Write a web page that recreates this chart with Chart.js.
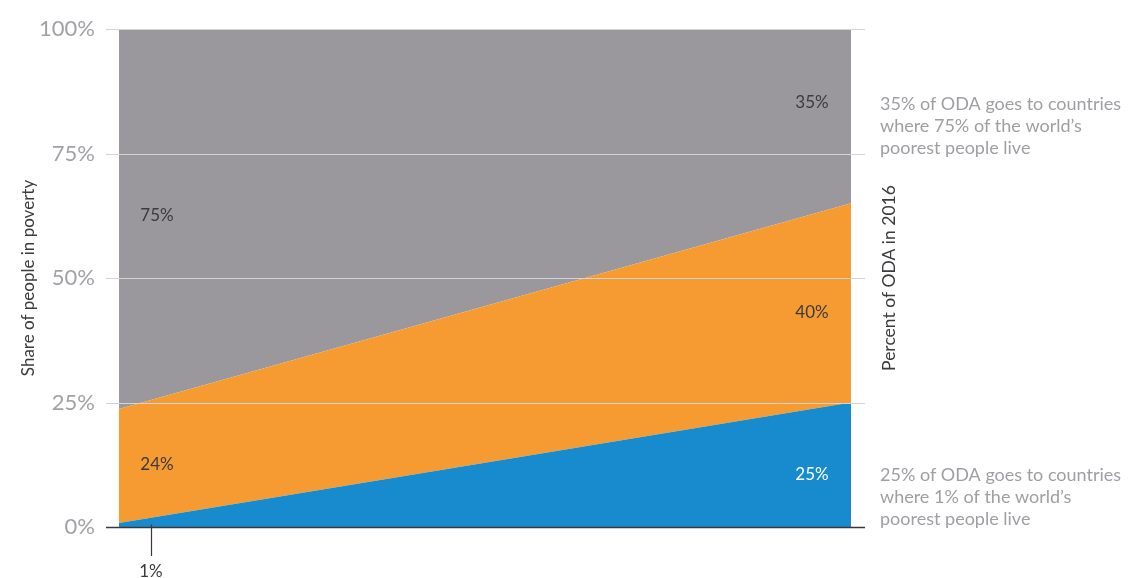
<!DOCTYPE html>
<html>
<head>
<meta charset="utf-8">
<script src="https://cdn.jsdelivr.net/npm/chart.js@4"></script>
<style>
  html, body { margin: 0; padding: 0; background: #fff; }
  #wrap { position: relative; width: 1128px; height: 578px; }
</style>
</head>
<body>
<div id="wrap"><canvas id="odaChart"></canvas></div>
<script>
// data: share of people in poverty (stacked), left = poorest, right = ODA share
const xPoints = ['poverty', 'oda'];
const bluePart = [0.8, 25];
const orangePart = [22.9, 40];
const greyPart = [76.3, 35];
const yTicks = [0, 25, 50, 75, 100];

const areaLabels = [
  { text: '75%', side: 0, at: 62.5, color: '#3d3a3e' },
  { text: '24%', side: 0, at: 12.5, color: '#3d3a3e' },
  { text: '35%', side: 1, at: 85.3, color: '#3d3a3e' },
  { text: '40%', side: 1, at: 43, color: '#3d3a3e' },
  { text: '25%', side: 1, at: 10.5, color: '#ffffff' }
];
const noteTop = ['35% of ODA goes to countries', 'where 75% of the world\u2019s', 'poorest people live'];
const noteBottom = ['25% of ODA goes to countries', 'where 1% of the world\u2019s', 'poorest people live'];

const FONT = 'Lato, "Open Sans", sans-serif';

const overlay = {
  id: 'overlay',
  afterDatasetsDraw(chart) {
    const ctx = chart.ctx;
    const a = chart.chartArea;
    const y = chart.scales.y;
    ctx.save();
    // grid lines on top of the areas
    yTicks.forEach(v => {
      const py = Math.round(y.getPixelForValue(v)) + 0.5;
      ctx.beginPath();
      ctx.moveTo(a.left - 13, py);
      ctx.lineTo(a.right + 14, py);
      if (v === 0) {
        ctx.strokeStyle = '#3a383c';
        ctx.lineWidth = 1.5;
      } else {
        ctx.strokeStyle = '#d4d3d6';
        ctx.lineWidth = 1.2;
      }
      ctx.stroke();
    });

    // labels inside the areas
    ctx.font = '17px ' + FONT;
    ctx.textAlign = 'center';
    ctx.textBaseline = 'middle';
    areaLabels.forEach(l => {
      const px = l.side === 0 ? a.left + 38 : a.right - 39;
      ctx.fillStyle = l.color;
      ctx.fillText(l.text, px, y.getPixelForValue(l.at));
    });

    // 1% callout
    ctx.strokeStyle = '#3a383c';
    ctx.lineWidth = 1.2;
    ctx.beginPath();
    ctx.moveTo(a.left + 32.5, y.getPixelForValue(0.5));
    ctx.lineTo(a.left + 32.5, a.bottom + 29);
    ctx.stroke();
    ctx.fillStyle = '#3d3a3e';
    ctx.fillText('1%', a.left + 32, a.bottom + 45);

    // right-hand title
    ctx.save();
    ctx.translate(a.right + 38, (a.top + a.bottom) / 2);
    ctx.rotate(-Math.PI / 2);
    ctx.fillStyle = '#3d3a3e';
    ctx.font = '17.5px ' + FONT;
    ctx.fillText('Percent of ODA in 2016', 0, 0);
    ctx.restore();

    // notes
    ctx.font = '18px ' + FONT;
    ctx.textAlign = 'left';
    ctx.fillStyle = '#a09ea3';
    const topY = y.getPixelForValue(85);
    noteTop.forEach((t, i) => ctx.fillText(t, a.right + 29, topY + i * 22));
    const botY = y.getPixelForValue(10.5);
    noteBottom.forEach((t, i) => ctx.fillText(t, a.right + 29, botY + i * 22));
    ctx.restore();
  }
};

const common = { pointRadius: 0, borderWidth: 0, tension: 0 };

new Chart(document.getElementById('odaChart'), {
  type: 'line',
  data: {
    labels: xPoints,
    datasets: [
      Object.assign({ label: 'poorest 1%', data: bluePart, backgroundColor: '#178bcd', fill: 'origin' }, common),
      Object.assign({ label: 'next 24%', data: orangePart, backgroundColor: '#f69b31', fill: '-1' }, common),
      Object.assign({ label: 'remaining 75%', data: greyPart, backgroundColor: '#9b989d', fill: '-1' }, common)
    ]
  },
  options: {
    responsive: true,
    maintainAspectRatio: false,
    animation: false,
    layout: { padding: { left: 0, right: 277, top: 29, bottom: 51 } },
    plugins: { legend: { display: false }, tooltip: { enabled: false } },
    scales: {
      x: { display: false, offset: false },
      y: {
        stacked: true,
        min: 0,
        max: 100,
        afterFit: s => { s.width = 119; },
        afterBuildTicks: s => { s.ticks = yTicks.map(v => ({ value: v })); },
        grid: { display: true, drawOnChartArea: false, drawTicks: true, tickLength: 24, color: 'rgba(0,0,0,0)' },
        border: { display: false },
        ticks: {
          padding: 0,
          color: '#a3a1a6',
          font: { family: FONT, size: 22 },
          callback: v => v + '%'
        },
        title: {
          display: true,
          text: 'Share of people in poverty',
          color: '#3d3a3e',
          font: { family: FONT, size: 17 },
          padding: { top: 18, bottom: 0 }
        }
      }
    }
  },
  plugins: [overlay]
});
</script>
</body>
</html>
